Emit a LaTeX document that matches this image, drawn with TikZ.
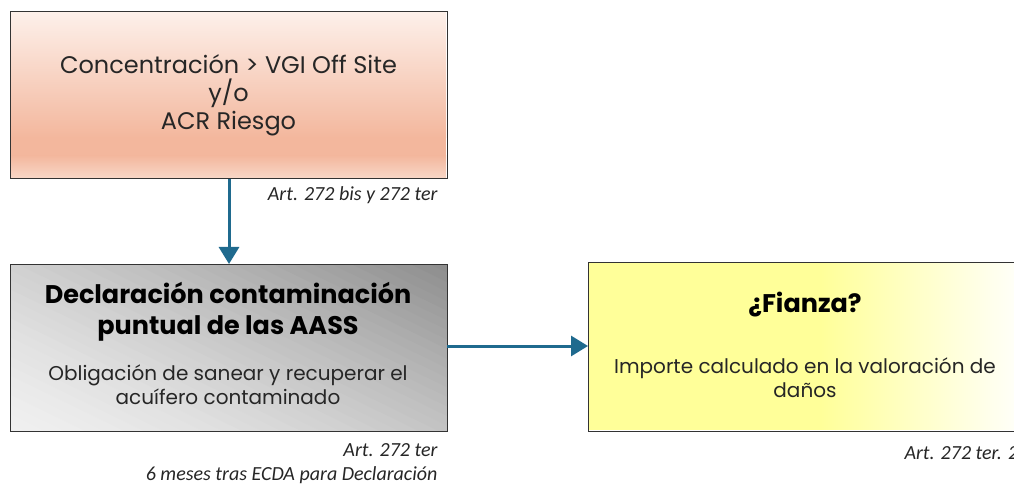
\documentclass[tikz,border=0pt]{standalone}
\usepackage{fontspec}
\setmainfont{Poppins}
\newfontfamily\labfont{Carlito}
\usetikzlibrary{arrows.meta}
\definecolor{arrowblue}{HTML}{1F6A8E}
\definecolor{pinktop}{HTML}{FDF0EA}
\definecolor{pinkmid}{HTML}{F3B79D}
\definecolor{pinkbot}{HTML}{F8D6C6}
\definecolor{darkgray}{HTML}{8C8C8C}
\definecolor{lightgray}{HTML}{F0F0F0}
\definecolor{yell}{HTML}{FFFF99}
\definecolor{txt}{HTML}{262626}
\tikzset{
  box/.style={line width=1pt, minimum width=436pt, anchor=north west, inner sep=0pt},
  boxline/.style={draw=black!80, line width=1pt},
  conn/.style={draw=arrowblue, line width=3pt, -{Triangle[length=17pt,width=20pt]}},
  lab/.style={font=\labfont\itshape\fontsize{20}{24}\selectfont, text=txt, anchor=east, align=right},
}
\begin{document}
\begin{tikzpicture}[x=1pt,y=-1pt]
\useasboundingbox (0,0) rectangle (1014,486);
\clip (0,0) rectangle (1014,486);
% box 1 (pink)
\node[box, minimum height=166pt] (b1) at (10,12) {};
\shade[top color=pinktop, bottom color=pinkmid] (10,12) rectangle (446,138);
\fill[pinkmid] (10,137.5) rectangle (446,156);
\shade[top color=pinkmid, bottom color=pinkbot] (10,155.5) rectangle (446,177.5);
\draw[boxline] (b1.north west) rectangle (b1.south east);
\node[text=txt, align=center, font=\fontsize{24}{28}\selectfont] (t1) at (b1.center) {Concentración > VGI Off Site\\y/o\\ACR Riesgo};
% box 2 (gray, diagonal gradient)
\node[box, minimum height=165pt] (b2) at (10,265) {};
\begin{scope}
  \clip (b2.north west) rectangle (b2.south east);
  \foreach \i in {0,...,39} {
    \pgfmathsetmacro\ta{-172+\i*8.6}
    \pgfmathsetmacro\tb{\ta+9.6}
    \pgfmathsetmacro\pct{100*((\i+0.5)/40)^1.4}
    \colorlet{stripc}{darkgray!\pct!lightgray}
    \fill[stripc] ({228+\ta*0.438-260*0.899},{347.5-\ta*0.899-260*0.438})
      -- ({228+\ta*0.438+260*0.899},{347.5-\ta*0.899+260*0.438})
      -- ({228+\tb*0.438+260*0.899},{347.5-\tb*0.899+260*0.438})
      -- ({228+\tb*0.438-260*0.899},{347.5-\tb*0.899-260*0.438}) -- cycle;
  }
\end{scope}
\draw[boxline] (b2.north west) rectangle (b2.south east);
\node[text=black, align=center, font=\bfseries\fontsize{25.5}{31}\selectfont] (t2) at (228,312) {Declaración contaminación\\puntual de las AASS};
\node[text=txt, align=center, font=\fontsize{20}{24}\selectfont] (t2b) at (228,385) {Obligación de sanear y recuperar el\\acuífero contaminado};
% box 3 (yellow)
\node[box, minimum width=450pt, minimum height=167pt] (b3) at (588,263) {};
\fill[yell] (588,263) rectangle (821,430);
\shade[left color=yell, right color=white] (820,263.5) rectangle (1030,429.5);
\draw[boxline] (b3.north west) rectangle (b3.south east);
\draw[boxline] (b3.south west) -- (b3.south east);
\node[text=black, font=\bfseries\fontsize{25.5}{28}\selectfont] (t3) at (805,305) {¿Fianza?};
\node[text=txt, align=center, font=\fontsize{20}{24}\selectfont] (t3b) at (805,378) {Importe calculado en la valoración de\\daños};
% labels
\node[lab] (l1) at (441,195) {Art. 272 bis y 272 ter};
\node[lab] (l2) at (441,464) {Art. 272 ter\\6 meses tras ECDA para Declaración};
\node[lab, anchor=west] (l3) at (901,453) {Art. 272 ter. 2};
% connectors
\draw[conn] (b1.south -| 229,0) -- (229,264);
\draw[conn] (b2.east |- 0,346) -- (b3.west |- 0,346);
\end{tikzpicture}
\end{document}
